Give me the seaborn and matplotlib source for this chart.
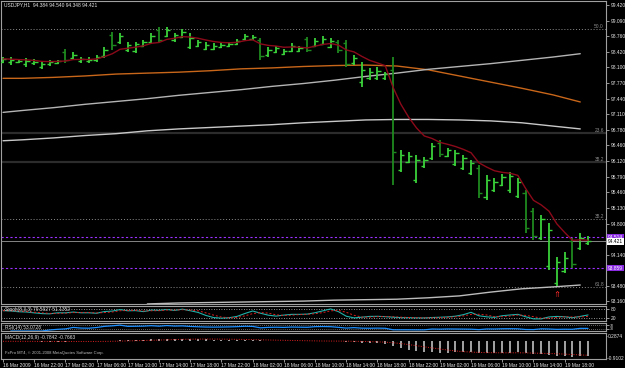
import numpy as np
import pandas as pd
import matplotlib
matplotlib.use('Agg')
import matplotlib.pyplot as plt
import seaborn as sns

# USDJPY H1, one bar per hour, 16 Mar 2009 18:00 .. 19 Mar 2009 21:00
opens = [98.21, 98.21, 98.21, 98.17, 98.19, 98.11, 98.17, 98.19, 98.43, 98.30,
         98.24, 98.24, 98.26, 98.34, 98.79, 98.64, 98.47, 98.45, 98.55, 98.64,
         98.89, 98.77, 98.68, 98.74, 98.53, 98.55, 98.49, 98.49, 98.53, 98.55,
         98.60, 98.70, 98.70, 98.68, 98.36, 98.43, 98.38, 98.45, 98.45, 98.70,
         98.55, 98.60, 98.53, 98.64, 98.62, 98.19, 97.79, 97.88, 97.88, 97.88,
         98.05, 95.93, 96.10, 95.72, 96.02, 96.19, 96.50, 96.23, 96.06, 95.97,
         95.87, 95.97, 95.36, 95.51, 95.61, 95.51, 95.38, 95.44, 95.07, 94.49,
         93.90, 93.54, 93.80, 94.43, 94.28, 94.384]
highs = [98.32, 98.32, 98.26, 98.30, 98.28, 98.21, 98.26, 98.26, 98.49, 98.43,
         98.32, 98.32, 98.36, 98.53, 98.85, 98.83, 98.64, 98.64, 98.68, 98.83,
         98.96, 98.96, 98.83, 98.91, 98.83, 98.68, 98.64, 98.62, 98.62, 98.64,
         98.70, 98.81, 98.79, 98.72, 98.53, 98.55, 98.49, 98.62, 98.55, 98.74,
         98.72, 98.77, 98.72, 98.68, 98.68, 98.36, 98.21, 98.09, 98.11, 98.00,
         98.32, 96.35, 96.31, 96.25, 96.21, 96.50, 96.57, 96.40, 96.35, 96.25,
         96.14, 96.04, 95.83, 95.76, 95.85, 95.89, 95.76, 95.51, 95.13, 94.98,
         94.81, 94.09, 94.20, 94.49, 94.60, 94.540]
lows = [98.19, 98.15, 98.19, 98.11, 98.15, 98.07, 98.13, 98.17, 98.19, 98.26,
        98.19, 98.19, 98.21, 98.30, 98.47, 98.60, 98.43, 98.41, 98.53, 98.62,
        98.62, 98.74, 98.64, 98.72, 98.49, 98.53, 98.47, 98.47, 98.51, 98.53,
        98.57, 98.68, 98.68, 98.26, 98.32, 98.41, 98.36, 98.43, 98.43, 98.43,
        98.53, 98.57, 98.51, 98.41, 98.11, 98.15, 97.69, 97.83, 97.83, 97.83,
        95.61, 95.89, 96.08, 95.66, 95.97, 96.14, 96.21, 96.21, 96.02, 95.93,
        95.83, 95.34, 95.30, 95.47, 95.59, 95.45, 95.34, 94.60, 94.45, 94.45,
        93.82, 93.48, 93.75, 93.86, 94.24, 94.348]
closes = [98.28, 98.26, 98.24, 98.24, 98.21, 98.17, 98.21, 98.24, 98.26, 98.36,
          98.28, 98.26, 98.32, 98.47, 98.57, 98.77, 98.57, 98.60, 98.64, 98.77,
          98.68, 98.89, 98.79, 98.85, 98.72, 98.64, 98.57, 98.55, 98.57, 98.60,
          98.66, 98.77, 98.74, 98.34, 98.47, 98.51, 98.45, 98.55, 98.51, 98.47,
          98.66, 98.70, 98.66, 98.47, 98.17, 98.30, 98.05, 98.00, 98.03, 97.96,
          96.31, 96.25, 96.23, 96.14, 96.14, 96.44, 96.27, 96.35, 96.29, 96.19,
          96.08, 95.45, 95.72, 95.68, 95.78, 95.81, 95.68, 94.71, 94.54, 94.90,
          94.66, 93.99, 94.07, 93.94, 94.49, 94.421]

time_labels = ['16 Mar 2009', '16 Mar 22:00', '17 Mar 02:00', '17 Mar 06:00',
               '17 Mar 10:00', '17 Mar 14:00', '17 Mar 18:00', '17 Mar 22:00',
               '18 Mar 02:00', '18 Mar 06:00', '18 Mar 10:00', '18 Mar 14:00',
               '18 Mar 18:00', '18 Mar 22:00', '19 Mar 02:00', '19 Mar 06:00',
               '19 Mar 10:00', '19 Mar 14:00', '19 Mar 18:00']

# slow moving averages, one value per H4 block
block_start = [0, 1, 5, 9, 13, 17, 21, 25, 29, 33, 37, 41, 45, 49, 53, 57, 61, 65, 69, 73]
ma_orange = [97.87, 97.87, 97.89, 97.92, 97.96, 97.98, 98.00, 98.03, 98.07, 98.09,
             98.12, 98.14, 98.15, 98.13, 98.05, 97.92, 97.79, 97.66, 97.52, 97.37]
ma_grey_top = [97.15, 97.19, 97.25, 97.32, 97.38, 97.44, 97.51, 97.57, 97.63, 97.70,
               97.76, 97.83, 97.91, 97.98, 98.06, 98.12, 98.18, 98.25, 98.32, 98.39]
ma_grey_mid = [96.55, 96.57, 96.61, 96.66, 96.70, 96.76, 96.80, 96.83, 96.86, 96.89,
               96.93, 96.96, 96.99, 97.00, 97.00, 96.99, 96.97, 96.93, 96.86, 96.80]
ma_grey_low = [np.nan, np.nan, np.nan, np.nan, np.nan, 93.10, 93.12, 93.13, 93.14, 93.15,
               93.16, 93.18, 93.19, 93.20, 93.23, 93.27, 93.35, 93.42, 93.46, 93.50]

fibo_dotted = [98.913, 94.896, 93.458]
fibo_dotted_txt = ['50.0', '38.2', '61.8']
fibo_solid = [96.714, 96.101]
fibo_solid_txt = ['23.6', '38.2']
user_levels = [94.514, 93.859]

price_ticks = [99.42, 99.09, 98.76, 98.42, 98.10, 97.77, 97.44, 97.11, 96.78, 96.46,
               96.12, 95.79, 95.46, 95.13, 94.80, 94.14, 93.48, 93.16]
macd_scale = [0.2874, -0.9102]

df = pd.DataFrame({'o': opens, 'h': highs, 'l': lows, 'c': closes})
n = len(df)
df['i'] = np.arange(n)
df['ema'] = df.c.ewm(span=7, adjust=False).mean()

sns.set_style('dark')
plt.rcParams['font.family'] = ['Liberation Sans', 'DejaVu Sans']

W, H = 625, 368
FS = 3.5
fig = plt.figure(figsize=(W / 100, H / 100), dpi=100, facecolor='black')


def pane(top, bottom):
    a = fig.add_axes([1 / W, 1 - bottom / H, 605 / W, (bottom - top) / H])
    a.set_facecolor('black')
    for s in a.spines.values():
        s.set_color('#a0a0a0')
        s.set_linewidth(0.8)
    a.set_xlim(-0.26, 77.3)
    a.tick_params(axis='y', left=False, labelleft=False, right=True, labelright=True,
                  colors='#b0b0b0', labelcolor='#e8e8e8', labelsize=FS,
                  length=2, width=0.6, pad=1.5)
    a.grid(False)
    return a


def tidy(a):
    a.set_xlabel('')
    a.set_ylabel('')


# ---- main price window
ax = pane(1, 304)
ax.set_ylim(93.0986, 99.5046)

for v in fibo_dotted:
    ax.axhline(v, color='#8c8c8c', ls=(0, (1, 2)), lw=0.7, zorder=1)
for v in fibo_solid:
    ax.axhline(v, color='#2c2c2c', lw=1.6, zorder=1)
for v, t in zip(fibo_dotted + fibo_solid, fibo_dotted_txt + fibo_solid_txt):
    ax.text(0.9965, v, t, transform=ax.get_yaxis_transform(), ha='right', va='bottom',
            fontsize=FS, color='#8c8c8c')
for v in user_levels:
    ax.axhline(v, color='#9b30ff', ls=(0, (2, 2)), lw=0.8, zorder=1)
ax.axhline(closes[-1], color='#9a9a9a', lw=0.6, zorder=1)

# each H4 value sits in the middle of its block of H1 bars
edges = np.array(block_start + [n]) - 0.5
mids = (edges[:-1] + edges[1:]) / 2
for vals, col in [(ma_orange, '#c8661a'), (ma_grey_top, '#b4b4b4'),
                  (ma_grey_mid, '#c8c8c8'), (ma_grey_low, '#bcbcbc')]:
    sns.lineplot(x=mids, y=vals, ax=ax, color=col, lw=1, legend=False, zorder=2)

cols = np.where(df.c >= df.o, '#3ad23a', '#1f8a1f')
ax.vlines(df.i, df.l, df.h, colors=cols, lw=1.3, zorder=3)
ax.hlines(df.o, df.i - 0.42, df.i, colors=cols, lw=1.0, zorder=3)
ax.hlines(df.c, df.i, df.i + 0.42, colors=cols, lw=1.0, zorder=3)

sns.lineplot(data=df, x='i', y='ema', ax=ax, color='#8b0a1a', lw=1, legend=False, zorder=4)

k = int(np.argmin(lows))
ax.text(k, lows[k] - 0.2, '⇑', color='#ff2a2a', fontsize=6, ha='center', va='center', zorder=5)

ax.set_yticks(price_ticks)
ax.set_yticklabels([f'{p:.3f}' for p in price_ticks])
ax.set_xticks([])
tidy(ax)
for v in user_levels:
    ax.text(1.003, v, f'{v:.3f}', transform=ax.get_yaxis_transform(), ha='left', va='center',
            fontsize=FS, color='white', zorder=6, clip_on=False,
            bbox=dict(boxstyle='square,pad=0.15', fc='#8a2be2', ec='none'))
ax.text(1.003, closes[-1], f'{closes[-1]:.3f}', transform=ax.get_yaxis_transform(), ha='left',
        va='center', fontsize=FS, color='black', zorder=6, clip_on=False,
        bbox=dict(boxstyle='square,pad=0.15', fc='white', ec='none'))
fig.text(4 / W, 1 - 5 / H,
         f'USDJPY,H1  {opens[-1]:.3f} {highs[-1]:.3f} {lows[-1]:.3f} {closes[-1]:.3f}',
         fontsize=FS, color='#e8e8e8', va='center')

# ---- Stochastic
st = pane(306, 321)
st.set_ylim(0, 100)
ll = df.l.rolling(8, min_periods=1).min()
hh = df.h.rolling(8, min_periods=1).max()
df['k'] = 100 * (df.c - ll).rolling(3, min_periods=1).sum() / (hh - ll).rolling(3, min_periods=1).sum()
df['d'] = df.k.rolling(3, min_periods=1).mean()
for v in (20, 80):
    st.axhline(v, color='#c0c0c0', ls=(0, (1, 2)), lw=0.6)
sns.lineplot(data=df, x='i', y='k', ax=st, color='#20b2aa', lw=0.8, legend=False)
sns.lineplot(data=df, x='i', y='d', ax=st, color='#e02020', lw=0.7, ls=(0, (2, 2)), legend=False)
st.set_yticks([80, 20])
st.set_yticklabels(['80', '20'])
st.set_xticks([])
tidy(st)
fig.text(5 / W, 1 - 310 / H, 'Stoch(8,3,3) 79.5927 51.1352', fontsize=FS, color='#e0e0e0', va='center')

# ---- RSI
rs = pane(323, 331)
rs.set_ylim(0, 100)
delta = df.c.diff()
gain = delta.clip(lower=0).ewm(alpha=1 / 14, adjust=False).mean()
loss = (-delta.clip(upper=0)).ewm(alpha=1 / 14, adjust=False).mean()
df['rsi'] = 100 - 100 / (1 + gain / loss)
for v in (30, 70):
    rs.axhline(v, color='#c0c0c0', ls=(0, (1, 2)), lw=0.5)
sns.lineplot(data=df, x='i', y='rsi', ax=rs, color='#1e90ff', lw=0.9, legend=False)
rs.set_yticks([70, 30])
rs.set_yticklabels(['70', '30'])
rs.tick_params(axis='y', labelsize=2.6, pad=1)
rs.set_xticks([])
tidy(rs)
fig.text(5 / W, 1 - 327 / H, 'RSI(14) 53.0728', fontsize=FS, color='#e0e0e0', va='center')

# ---- MACD
md = pane(333, 359)
md.set_ylim(-0.965, 0.451)
df['macd'] = df.c.ewm(span=12, adjust=False).mean() - df.c.ewm(span=26, adjust=False).mean()
df['sig'] = df.macd.rolling(9, min_periods=1).mean()
md.vlines(df.i, 0, df.macd, colors='#d0d0d0', lw=1.1)
sns.lineplot(data=df, x='i', y='sig', ax=md, color='#e02020', lw=0.7, ls=(0, (1, 1.5)), legend=False)
md.set_yticks(macd_scale)
md.set_yticklabels([f'{v:.4f}' for v in macd_scale])
md.tick_params(axis='y', length=1, pad=0.5)
md.set_xticks(np.arange(0, n, 4)[:len(time_labels)])
md.set_xticklabels(time_labels, ha='left')
md.tick_params(axis='x', bottom=True, colors='#b0b0b0', labelcolor='#e8e8e8',
               labelsize=FS, length=2, width=0.6, pad=1)
tidy(md)
fig.text(5 / W, 1 - 338 / H, 'MACD(12,26,9) -0.7842 -0.7663', fontsize=FS, color='#e0e0e0', va='center')
fig.text(5 / W, 1 - 353 / H, 'FxPro MT4, © 2001-2008 MetaQuotes Software Corp.',
         fontsize=3.0, color='#c0c0c0', va='center')

fig.savefig('out.png', dpi=100, facecolor='black')
